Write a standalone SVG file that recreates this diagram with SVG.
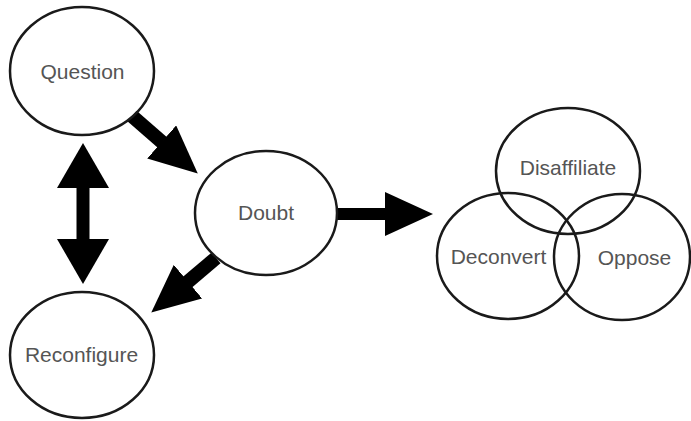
<svg xmlns="http://www.w3.org/2000/svg" width="691" height="421" viewBox="0 0 691 421">
<style>
.node{fill:none;stroke:#1a1a1a;stroke-width:2.5}
.lbl{font-family:"Liberation Sans",Arial,sans-serif;font-size:21px;fill:#555;text-anchor:middle}
.arr{stroke:#000;fill:none}
</style>
<defs>
<marker id="head" markerUnits="userSpaceOnUse" markerWidth="48" markerHeight="44" viewBox="0 0 48 44" refX="1" refY="22" orient="auto-start-reverse"><path d="M0,0 L48,22 L0,44 z" fill="#000"/></marker>
<marker id="headWide" markerUnits="userSpaceOnUse" markerWidth="45" markerHeight="52" viewBox="0 0 45 52" refX="1" refY="26" orient="auto-start-reverse"><path d="M0,0 L45,26 L0,52 z" fill="#000"/></marker>
</defs>
<g id="connectors">
<line class="arr" stroke-width="14" x1="132" y1="116" x2="162.4" y2="142.6" marker-end="url(#head)"/>
<line class="arr" stroke-width="13" x1="83" y1="187" x2="83" y2="240" marker-start="url(#headWide)" marker-end="url(#headWide)"/>
<line class="arr" stroke-width="14" x1="216" y1="258" x2="187.2" y2="282.3" marker-end="url(#head)"/>
<line class="arr" stroke-width="12" x1="337" y1="214" x2="386" y2="214" marker-end="url(#head)"/>
</g>
<g id="question"><ellipse class="node" cx="82" cy="71" rx="72" ry="64"/><text class="lbl" x="82.5" y="79">Question</text></g>
<g id="doubt"><ellipse class="node" cx="266" cy="213" rx="71" ry="62"/><text class="lbl" x="266" y="220">Doubt</text></g>
<g id="reconfigure"><ellipse class="node" cx="82" cy="355" rx="72" ry="63"/><text class="lbl" x="81.5" y="362">Reconfigure</text></g>
<g id="disaffiliate"><ellipse class="node" cx="568" cy="171" rx="72" ry="63"/><text class="lbl" x="568" y="175">Disaffiliate</text></g>
<g id="deconvert"><ellipse class="node" cx="508" cy="256" rx="71" ry="63"/><text class="lbl" x="498.5" y="264">Deconvert</text></g>
<g id="oppose"><ellipse class="node" cx="622" cy="257" rx="68" ry="63"/><text class="lbl" x="634.5" y="265">Oppose</text></g>
</svg>
